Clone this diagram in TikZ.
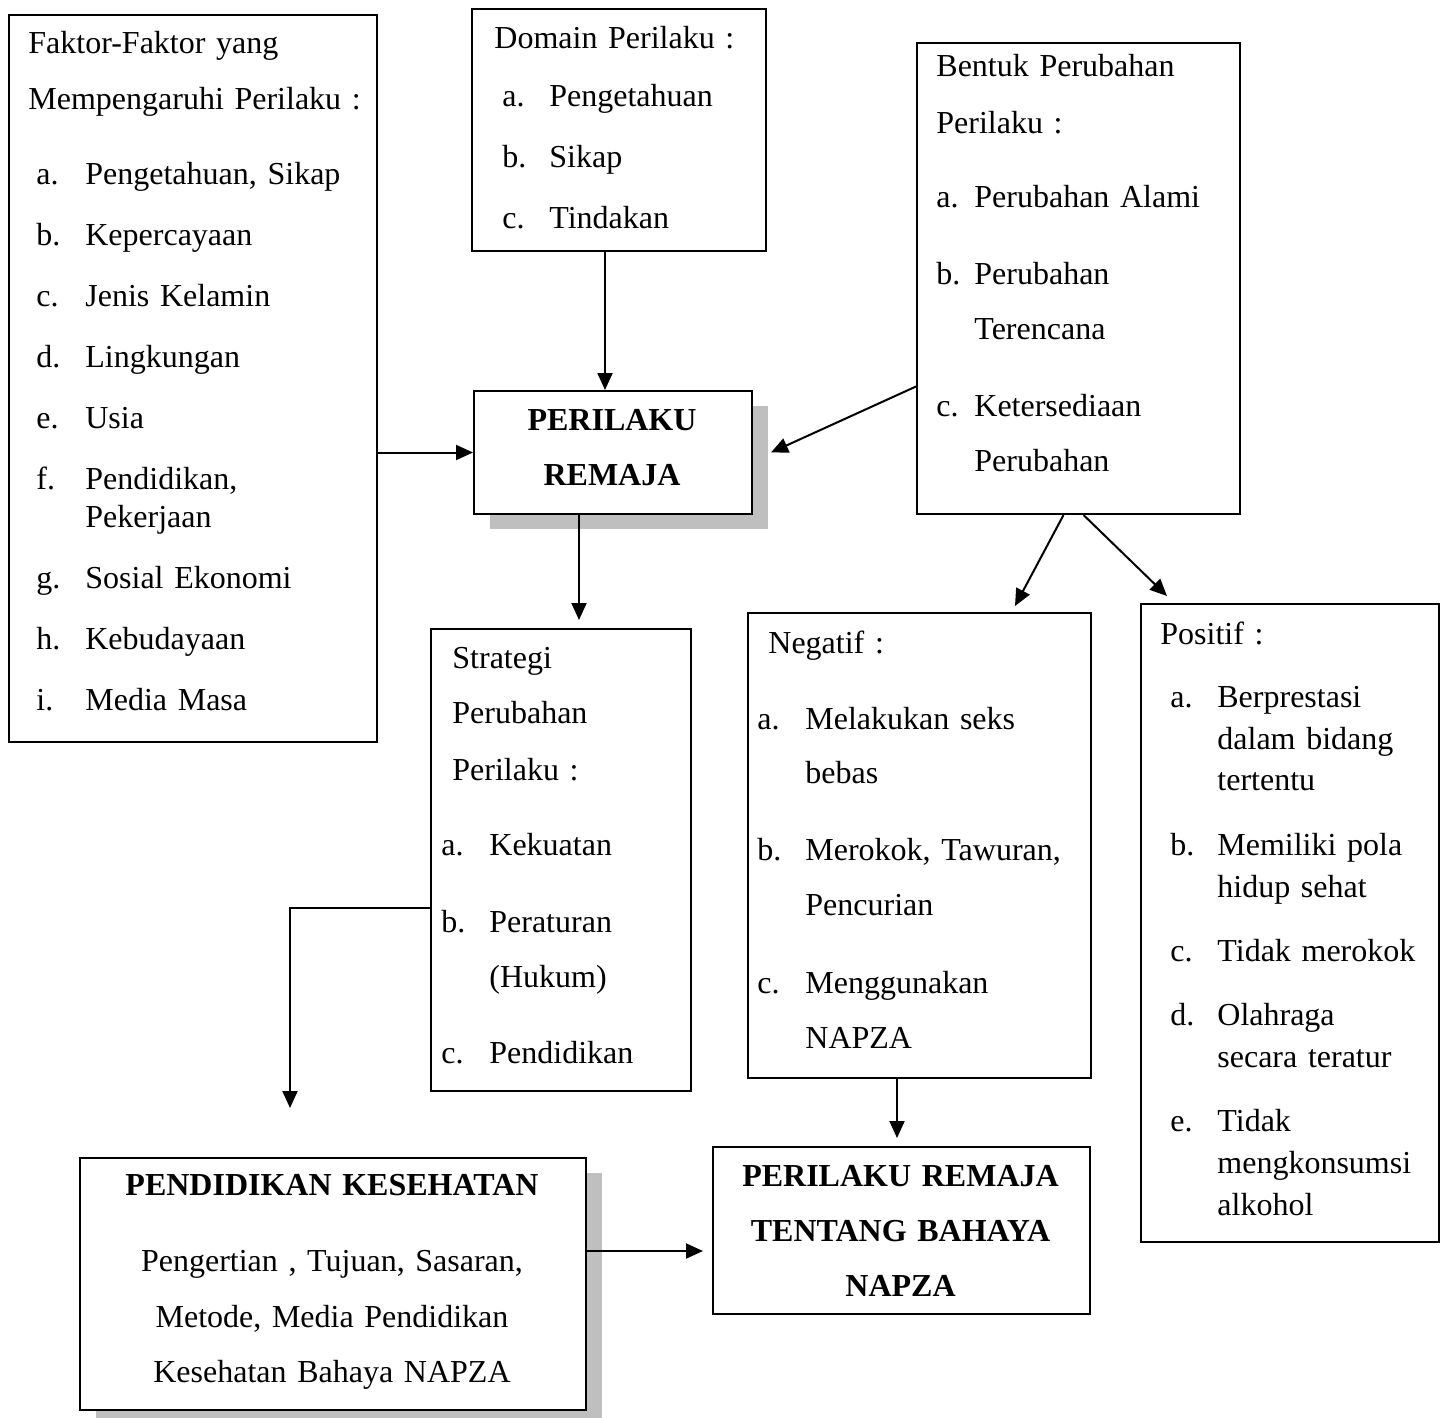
\documentclass[tikz,border=0pt]{standalone}
\usepackage{fontspec}
\setmainfont{Liberation Serif}
\usetikzlibrary{arrows.meta, positioning, shadows, calc}

\newcommand{\lbl}[1]{\hspace*{\lx}\makebox[\lw][l]{#1}}
\newcommand{\cont}{\hspace*{\lx}\hspace*{\lw}}

\begin{document}
\begin{tikzpicture}[
    x=0.5pt, y=-0.5pt,
    box/.style={draw, line width=1pt, inner sep=0pt, anchor=north west},
    shbox/.style={box, fill=white, drop shadow={shadow xshift=8pt, shadow yshift=-7.5pt, opacity=1, fill=black!25}},
    lst/.style n args={3}{anchor=base west, inner sep=0pt, text width=200pt, align=left,
        font={\fontsize{16}{#1}\selectfont\def\lx{#2}\def\lw{#3}}},
    head/.style={anchor=base, inner sep=0pt, text width=#1, align=center, font=\fontsize{16}{27.5pt}\selectfont\bfseries},
    arr/.style={-{Triangle[length=8.5pt, width=7.5pt]}, line width=1pt}
]
    \useasboundingbox (0,0) rectangle (1443,1417);

    % boxes
    \node[box, minimum width=184pt, minimum height=363.5pt] (fak) at (8,14) {};
    \node[box, minimum width=147pt, minimum height=121pt] (dom) at (471,8) {};
    \node[box, minimum width=161.5pt, minimum height=235.5pt] (ben) at (916,42) {};
    \node[shbox, minimum width=139pt, minimum height=61.5pt] (per) at (473,390) {};
    \node[box, minimum width=130pt, minimum height=231pt] (str) at (430,628) {};
    \node[box, minimum width=171.5pt, minimum height=232.5pt] (neg) at (747,612) {};
    \node[box, minimum width=149pt, minimum height=319pt] (pos) at (1140,603) {};
    \node[shbox, minimum width=253pt, minimum height=126pt] (pen) at (79,1157) {};
    \node[box, minimum width=188.5pt, minimum height=83.5pt] (rem) at (712,1146) {};

    % texts
    \node[lst={30.5pt}{4pt}{24.5pt}] (fak-t) at (28,54) {Faktor-Faktor yang\\[-2.5pt]
        Mempengaruhi Perilaku :\\[7pt]
        \lbl{a.}Pengetahuan, Sikap\\
        \lbl{b.}Kepercayaan\\
        \lbl{c.}Jenis Kelamin\\
        \lbl{d.}Lingkungan\\
        \lbl{e.}Usia\\
        \lbl{f.}Pendidikan,\\[-11.5pt]
        \cont Pekerjaan\\
        \lbl{g.}Sosial Ekonomi\\
        \lbl{h.}Kebudayaan\\
        \lbl{i.}Media Masa};

    \node[lst={30.5pt}{4pt}{23.5pt}] (dom-t) at (494,49) {Domain Perilaku :\\[-1.5pt]
        \lbl{a.}Pengetahuan\\
        \lbl{b.}Sikap\\
        \lbl{c.}Tindakan};

    \node[lst={27.5pt}{0pt}{19pt}] (ben-t) at (936,77) {Bentuk Perubahan\\[1pt]
        Perilaku :\\[9.5pt]
        \lbl{a.}Perubahan Alami\\[11pt]
        \lbl{b.}Perubahan\\
        \cont Terencana\\[11pt]
        \lbl{c.}Ketersediaan\\
        \cont Perubahan};

    \node[head=130pt] (per-t) at (612,430) {PERILAKU\\REMAJA};

    \node[lst={28pt}{-5.5pt}{24pt}] (str-t) at (452,668) {Strategi\\[-0.5pt]
        Perubahan\\[0.5pt]
        Perilaku :\\[9.5pt]
        \lbl{a.}Kekuatan\\[10.5pt]
        \lbl{b.}Peraturan\\[-0.5pt]
        \cont (Hukum)\\[10pt]
        \lbl{c.}Pendidikan};

    \node[lst={27.5pt}{-5.5pt}{24pt}] (neg-t) at (768,653) {Negatif :\\[10.5pt]
        \lbl{a.}Melakukan seks\\[-0.5pt]
        \cont bebas\\[11pt]
        \lbl{b.}Merokok, Tawuran,\\
        \cont Pencurian\\[11.5pt]
        \lbl{c.}Menggunakan\\
        \cont NAPZA};

    \node[lst={21pt}{5pt}{23.5pt}] (pos-t) at (1160,644) {Positif :\\[10.5pt]
        \lbl{a.}Berprestasi\\
        \cont dalam bidang\\[-0.5pt]
        \cont tertentu\\[11.5pt]
        \lbl{b.}Memiliki pola\\
        \cont hidup sehat\\[11pt]
        \lbl{c.}Tidak merokok\\[11pt]
        \lbl{d.}Olahraga\\
        \cont secara teratur\\[11pt]
        \lbl{e.}Tidak\\
        \cont mengkonsumsi\\
        \cont alkohol};

    \node[head=240pt] (pen-t) at (332,1195) {PENDIDIKAN KESEHATAN\\[10.5pt]
        \mdseries Pengertian , Tujuan, Sasaran,\\[0.5pt]
        Metode, Media Pendidikan\\
        Kesehatan Bahaya NAPZA};

    \node[head=180pt] (rem-t) at (900.5,1186) {PERILAKU REMAJA\\TENTANG BAHAYA\\NAPZA};

    % connectors
    \coordinate (brk) at (290,908);
    \coordinate (brk-end) at (290,1108);

    \draw[arr] (fak.east |- per.west) -- (per.west);
    \draw[arr] ([xshift=-7pt]dom.south) -- ([xshift=-7pt]dom.south |- per.north);
    \draw[arr] ([yshift=-54pt]ben.west) -- ([xshift=9pt]per.east);
    \draw[arr] ([xshift=-17pt]per.south) -- ([xshift=-17pt,yshift=4pt]per.south |- str.north);
    \draw[arr] ([xshift=-7.5pt]ben.south) -- ([xshift=-38.5pt,yshift=3pt]neg.north east);
    \draw[arr] ([xshift=2.5pt]ben.south) -- ([xshift=13.5pt,yshift=3.5pt]pos.north west);
    \draw[arr] (str.west |- brk) -- (brk) -- (brk-end);
    \draw[arr] ([xshift=-11.25pt]neg.south) -- ([xshift=-11.25pt,yshift=4pt]neg.south |- rem.north);
    \draw[arr] ([yshift=16.5pt]pen.east) coordinate (pen-out) -- ($(pen-out -| rem.west)+(-9,0)$);
\end{tikzpicture}
\end{document}
